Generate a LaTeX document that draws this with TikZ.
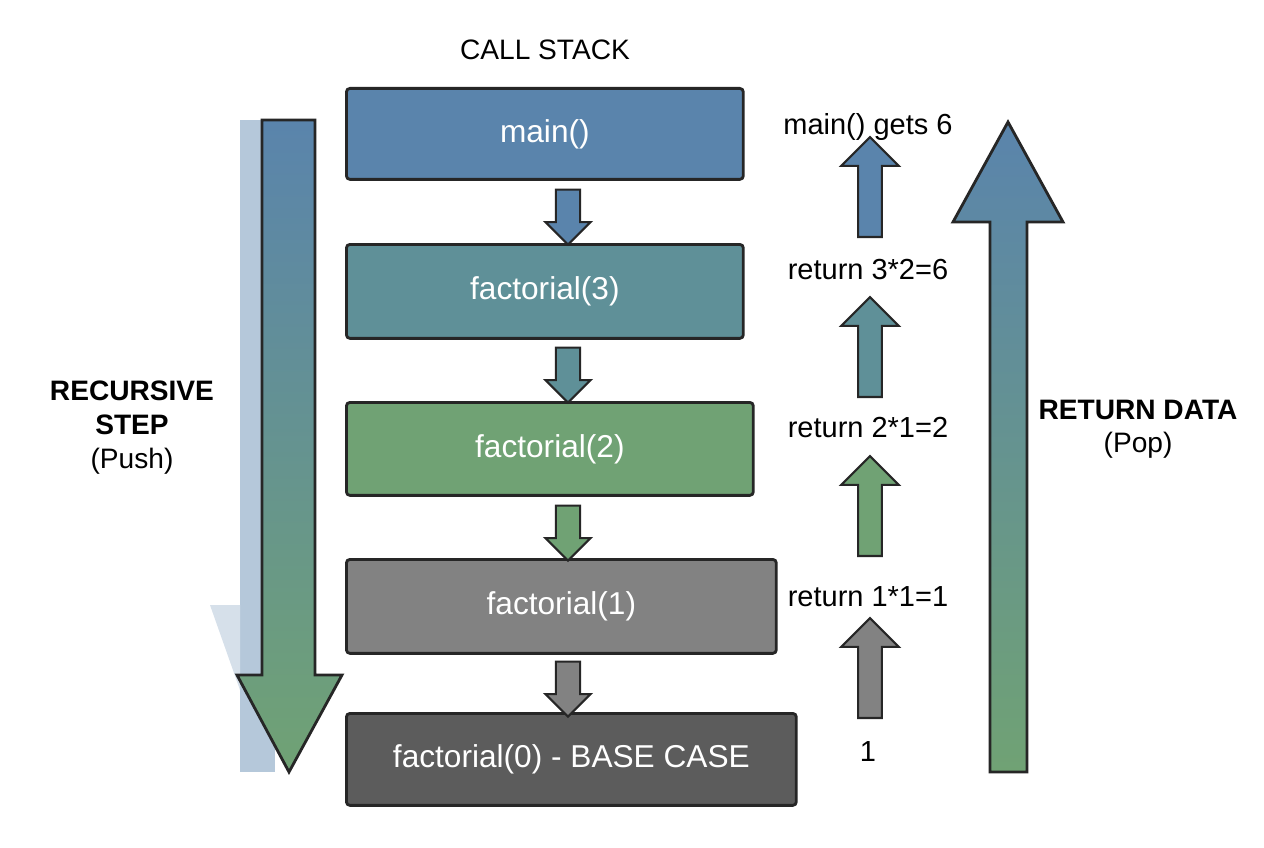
\documentclass[tikz,border=0pt]{standalone}
\usepackage{fontspec}
\setmainfont{Liberation Sans}
\usetikzlibrary{shapes.arrows}
\definecolor{cblue}{HTML}{5A84AC}
\definecolor{cteal}{HTML}{5F9098}
\definecolor{cgreen}{HTML}{70A274}
\definecolor{cgray}{HTML}{828282}
\definecolor{cdark}{HTML}{5C5C5C}
\tikzset{
  framebox/.style={draw=black!85, line width=1.6pt, rounded corners=2pt, anchor=north west, inner sep=0pt},
  frametext/.style={text=white, font=\fontsize{18}{21}\selectfont},
  pusharrow/.style={single arrow, draw=black!85, line width=1.2pt, shape border rotate=270, minimum height=1.1cm, minimum width=0.9cm, single arrow head extend=0.12cm, inner sep=0.12cm},
  poparrow/.style={single arrow, draw=black!85, line width=1.2pt, shape border rotate=90, minimum height=2cm, minimum width=1.15cm, single arrow head extend=0.2cm, inner sep=0.12cm},
  retlabel/.style={font=\fontsize{16.5}{19}\selectfont}
}
\begin{document}
\begin{tikzpicture}[x=0.02cm, y=-0.02cm]
  \useasboundingbox[fill=white] (0,0) rectangle (1264,848);
  % Stack frames
  \node[framebox, fill=cblue, minimum width=7.94cm, minimum height=1.82cm] (main) at (345,87) {};
  \node[frametext] at (main.center) {main()};
  \node[framebox, fill=cteal, minimum width=7.94cm, minimum height=1.88cm] (f3) at (345,243) {};
  \node[frametext] at (f3.center) {factorial(3)};
  \node[framebox, fill=cgreen, minimum width=8.14cm, minimum height=1.86cm] (f2) at (345,401) {};
  \node[frametext] at (f2.center) {factorial(2)};
  \node[framebox, fill=cgray, minimum width=8.6cm, minimum height=1.88cm] (f1) at (345,558) {};
  \node[frametext] at (f1.center) {factorial(1)};
  \node[framebox, fill=cdark, minimum width=9cm, minimum height=1.84cm] (f0) at (345,712) {};
  \node[frametext] at (f0.center) {factorial(0) - BASE CASE};

  % Push arrows between frames
  \node[pusharrow, fill=cblue] (p1) at (568,211) {};
  \node[pusharrow, fill=cteal] (p2) at (568,369) {};
  \node[pusharrow, fill=cgreen] (p3) at (568,527) {};
  \node[pusharrow, fill=cgray] (p4) at (568,683) {};

  % Return arrows and labels
  \node[poparrow, fill=cblue] (r1) at (870,193) {};
  \node[poparrow, fill=cteal] (r2) at (870,353) {};
  \node[poparrow, fill=cgreen] (r3) at (870,512) {};
  \node[poparrow, fill=cgray] (r4) at (870,674) {};
  \node[retlabel] (l0) at (868,127) {main() gets 6};
  \node[retlabel] (l1) at (868,270) {return 3*2=6};
  \node[retlabel] (l2) at (868,428) {return 2*1=2};
  \node[retlabel] (l3) at (868,597) {return 1*1=1};
  \node[retlabel] (l4) at (868,752) {1};

  % Big push arrow
  \fill[cblue!45] (240,120) rectangle (275,772);
  \fill[cblue!25] (210,605) -- (240,605) -- (240,690) -- cycle;
  \draw[line width=1.6pt, draw=black!85, top color=cblue, bottom color=cgreen]
    (262,120) -- (315,120) -- (315,675) -- (342,675) -- (289,772) -- (237,675) -- (262,675) -- cycle;
  % Big pop arrow
  \draw[line width=1.6pt, draw=black!85, top color=cblue, bottom color=cgreen]
    (990,772) -- (1027,772) -- (1027,222) -- (1063,222) -- (1008,122) -- (953,222) -- (990,222) -- cycle;

  % Titles
  \node[font=\fontsize{16}{19}\selectfont] (title) at (545,50) {CALL STACK};
  \node[font=\fontsize{16}{19}\selectfont\bfseries, align=center] (push) at (132,408) {RECURSIVE\\STEP};
  \node[font=\fontsize{16}{19}\selectfont] (pushsub) at (132,461) {(Push)};
  \node[font=\fontsize{16}{19}\selectfont\bfseries] (pop) at (1138,410) {RETURN DATA};
  \node[font=\fontsize{16}{19}\selectfont] (popsub) at (1138,445) {(Pop)};
\end{tikzpicture}
\end{document}
